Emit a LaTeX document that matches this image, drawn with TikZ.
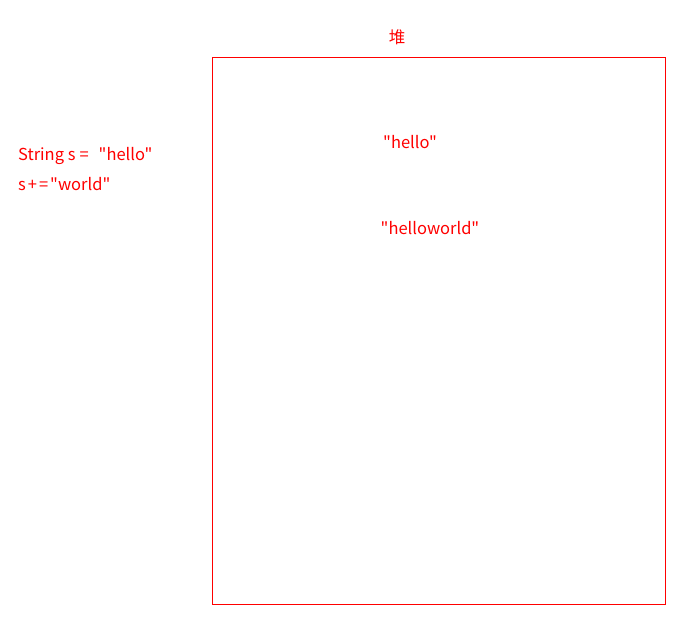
\documentclass[tikz,border=0pt]{standalone}
\usepackage{fontspec}
\setmainfont{Noto Sans CJK SC}[Ligatures=TeXOff]
\tikzset{label text/.style={text=red,font=\fontsize{16.5}{19}\selectfont}}
\begin{document}
\begin{tikzpicture}[x=1pt,y=-1pt]
    \useasboundingbox (0,0) rectangle (680,616);
    \draw[red,line width=0.9pt] (212,57) rectangle (665,604);
    \node[label text] (heap) at (397,37) {堆};
    \node[label text] (hello) at (410,142) {"hello"};
    \node[label text] (helloworld) at (430,228) {"helloworld"};
    \node[label text,anchor=west,inner sep=0pt] (decl) at (18,156) {String s\hspace{4pt}=\hspace{10pt}"hello"};
    \node[label text,anchor=west,inner sep=0pt] (concat) at (18,184) {s\kern2pt+\kern2pt=\kern2pt"world"};
\end{tikzpicture}
\end{document}
